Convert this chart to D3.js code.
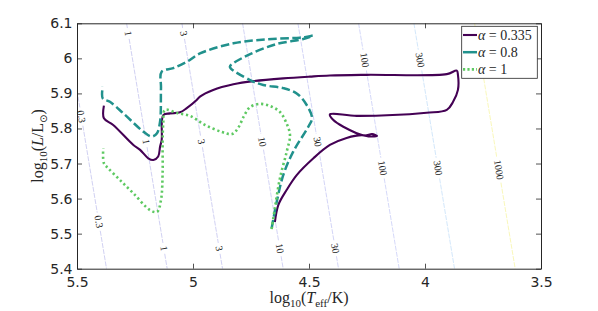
<!DOCTYPE html>
<html><head><meta charset="utf-8">
<script src="https://cdn.jsdelivr.net/npm/d3@7"></script>
<style>body{margin:0;background:#fff;} svg{display:block;}</style>
</head><body>
<svg id="chart" width="598" height="311"></svg>
<script>
// ---- data ----
const logT335 = [4.647,4.632,4.596,4.553,4.481,4.410,4.338,4.272,4.237,4.207,4.228,4.263,4.352,4.395,4.410,4.294,3.993,3.906,3.879,3.858,3.858,3.863,3.906,4.251,4.410,4.496,4.611,4.740,4.826,4.913,4.970,4.984,5.027,5.056,5.099,5.128,5.135,5.142,5.150,5.171,5.193,5.228,5.257,5.344,5.384,5.384];
const logL335 = [5.533,5.582,5.625,5.667,5.715,5.753,5.773,5.781,5.777,5.779,5.784,5.780,5.805,5.824,5.840,5.836,5.845,5.853,5.876,5.910,5.953,5.965,5.955,5.953,5.951,5.948,5.943,5.935,5.926,5.910,5.891,5.881,5.858,5.846,5.843,5.838,5.767,5.748,5.720,5.710,5.715,5.739,5.753,5.810,5.829,5.865];

const logT08 = [4.661,4.639,4.611,4.568,4.503,4.487,4.510,4.553,4.611,4.697,4.754,4.841,4.826,4.754,4.639,4.525,4.483,4.513,4.539,4.682,4.826,4.970,5.027,5.085,5.135,5.138,5.142,5.156,5.178,5.214,5.300,5.358,5.389,5.389];
const logL08 = [5.515,5.591,5.667,5.734,5.805,5.830,5.867,5.900,5.915,5.924,5.938,5.976,5.986,6.012,6.041,6.055,6.065,6.061,6.059,6.054,6.043,6.014,5.990,5.972,5.962,5.915,5.819,5.786,5.777,5.791,5.843,5.876,5.886,5.919];

const logT1 = [4.661,4.647,4.625,4.596,4.582,4.599,4.625,4.668,4.711,4.754,4.780,4.806,4.832,4.875,4.948,5.013,5.069,5.121,5.128,5.131,5.131,5.138,5.155,5.185,5.257,5.315,5.365,5.384,5.387];
const logL1 = [5.513,5.573,5.659,5.734,5.781,5.818,5.847,5.864,5.870,5.861,5.836,5.801,5.784,5.790,5.810,5.836,5.844,5.853,5.818,5.761,5.672,5.596,5.562,5.567,5.615,5.653,5.686,5.701,5.743];

const seriesNames = ["0.335","0.8","1"];
const seriesColors = ["#440154","#21918c","#5ec962"];

const xTicks = [5.5,5,4.5,4,3.5];
const xTickLabels = ["5.5","5","4.5","4","3.5"];
const yTicks = [5.4,5.5,5.6,5.7,5.8,5.9,6.0,6.1];
const yTickLabels = ["5.4","5.5","5.6","5.7","5.8","5.9","6","6.1"];

// iso-radius contours (R in solar radii)
const radiusLevels = [0.3,1,3,10,30,100,300,1000];
const radiusColors = ["#8f8fe0","#8f8fe0","#9090e2","#9295e6","#9499ea","#98a2f0","#92c4f4","#f0ec58"];
const labelRadius = [0.3,0.3,1,1,1,3,3,3,10,10,30,30,100,100,300,300,1000];
const labelLogL   = [5.834,5.534,6.071,5.762,5.458,6.071,5.762,5.458,5.762,5.458,5.762,5.458,5.995,5.687,5.995,5.687,5.682];
const logTsun = 3.7613;

// ---- drawing ----
const svg = d3.select("#chart");
const x = d3.scaleLinear().domain([5.5,3.5]).range([77,541]);
const y = d3.scaleLinear().domain([5.4,6.1]).range([268.7,23.3]);
const axisColor = "#262626";

svg.append("defs").append("clipPath").attr("id","clip")
  .append("rect").attr("x",77).attr("y",23.3).attr("width",464).attr("height",245.4);

const plot = svg.append("g").attr("clip-path","url(#clip)");
const lumToT = (L,R) => (L - 2*Math.log10(R))/4 + logTsun;

// contour labels (measure first)
const labG = svg.append("g");
const labels = labelRadius.map((R,i)=>{
  const L = labelLogL[i];
  const px = x(lumToT(L,R)), py = y(L);
  const p1 = [x(lumToT(6.1,R)), y(6.1)], p2 = [x(lumToT(5.4,R)), y(5.4)];
  const ang = Math.atan2(p2[1]-p1[1], p2[0]-p1[0])*180/Math.PI;
  const t = labG.append("text")
    .attr("transform",`translate(${px},${py}) rotate(${ang})`)
    .attr("text-anchor","middle").attr("dy","0.33em")
    .attr("font-family","Liberation Serif, DejaVu Serif, serif")
    .attr("font-size",10).attr("fill","#222")
    .text(String(R));
  return {R, px, py, len: t.node().getComputedTextLength()};
});

radiusLevels.forEach((R,i)=>{
  const p1 = [x(lumToT(6.1,R)), y(6.1)], p2 = [x(lumToT(5.4,R)), y(5.4)];
  const dx = p2[0]-p1[0], dy = p2[1]-p1[1];
  const total = Math.hypot(dx,dy);
  const ux = dx/total, uy = dy/total;
  const gaps = labels.filter(l=>l.R===R).map(l=>{
    const tc = (l.px-p1[0])*ux + (l.py-p1[1])*uy;
    return [tc - l.len/2 - 3, tc + l.len/2 + 3];
  }).sort((a,b)=>a[0]-b[0]);
  let start = 0;
  const segs = [];
  gaps.forEach(g=>{ segs.push([start,g[0]]); start = g[1]; });
  segs.push([start,total]);
  segs.forEach(s=>{
    if (s[1] <= s[0]) return;
    plot.append("line")
      .attr("x1",p1[0]+ux*s[0]).attr("y1",p1[1]+uy*s[0])
      .attr("x2",p1[0]+ux*s[1]).attr("y2",p1[1]+uy*s[1])
      .attr("stroke",radiusColors[i]).attr("stroke-width",0.55)
      .attr("stroke-dasharray","5,1.2").attr("opacity",0.75);
  });
});
labG.raise();

// tracks
const line = d3.line().x(d=>x(d[0])).y(d=>y(d[1])).curve(d3.curveCatmullRom.alpha(0.5));
const tracks = [d3.zip(logT335,logL335), d3.zip(logT08,logL08), d3.zip(logT1,logL1)];
const dashes = [null, "8.5,3.5", "2.2,2.8"];
const widths = [2.1, 2.5, 2.6];
tracks.forEach((tr,i)=>{
  plot.append("path").datum(tr).attr("d",line)
    .attr("fill","none").attr("stroke",seriesColors[i])
    .attr("stroke-width",widths[i])
    .attr("stroke-dasharray",dashes[i])
    .attr("stroke-linejoin","round");
});

// axes
const fontSans = "DejaVu Sans, sans-serif";
const gx = svg.append("g").attr("transform","translate(0,268.7)")
  .call(d3.axisBottom(x).tickValues(xTicks).tickFormat((d,i)=>xTickLabels[i]).tickSizeInner(-5).tickSizeOuter(0).tickPadding(8));
const gy = svg.append("g").attr("transform","translate(77,0)")
  .call(d3.axisLeft(y).tickValues(yTicks).tickFormat((d,i)=>yTickLabels[i]).tickSizeInner(-5).tickSizeOuter(0).tickPadding(4.5));
const gt = svg.append("g").attr("transform","translate(0,23.3)")
  .call(d3.axisTop(x).tickValues(xTicks).tickFormat("").tickSizeInner(-5).tickSizeOuter(0));
const gr = svg.append("g").attr("transform","translate(541,0)")
  .call(d3.axisRight(y).tickValues(yTicks).tickFormat("").tickSizeInner(-5).tickSizeOuter(0));
[gx,gy,gt,gr].forEach(g=>{
  g.selectAll("path.domain").attr("stroke",axisColor).attr("stroke-width",1);
  g.selectAll(".tick line").attr("stroke",axisColor).attr("stroke-width",0.8);
  g.selectAll("text").attr("fill",axisColor).attr("font-family",fontSans).attr("font-size",14);
});

// axis labels
const serif = "Liberation Serif, DejaVu Serif, serif";
const xl = svg.append("text").attr("x",309).attr("y",303).attr("text-anchor","middle")
  .attr("font-family",serif).attr("font-size",16).attr("fill",axisColor);
xl.append("tspan").text("log");
xl.append("tspan").attr("dy",4).attr("font-size",11).text("10");
xl.append("tspan").attr("dy",-4).text("(");
xl.append("tspan").attr("font-style","italic").text("T");
xl.append("tspan").attr("dy",4).attr("font-size",11).text("eff");
xl.append("tspan").attr("dy",-4).text("/K)");

const yl = svg.append("text").attr("transform","translate(43,146) rotate(-90)").attr("text-anchor","middle")
  .attr("font-family",serif).attr("font-size",16).attr("fill",axisColor);
yl.append("tspan").text("log");
yl.append("tspan").attr("dy",4).attr("font-size",11).text("10");
yl.append("tspan").attr("dy",-4).text("(");
yl.append("tspan").attr("font-style","italic").text("L");
yl.append("tspan").text("/L");
yl.append("tspan").attr("dy",4).attr("font-size",10).attr("font-family","DejaVu Sans, sans-serif").text("⊙");
yl.append("tspan").attr("dy",-4).text(")");

// legend
const lg = svg.append("g");
lg.append("rect").attr("x",461.7).attr("y",26.3).attr("width",75.6).attr("height",52)
  .attr("fill","#fff").attr("stroke",axisColor).attr("stroke-width",0.8);
seriesNames.forEach((n,i)=>{
  const yy = 35 + i*17.2;
  lg.append("line").attr("x1",463).attr("x2",477).attr("y1",yy).attr("y2",yy)
    .attr("stroke",seriesColors[i]).attr("stroke-width",widths[i])
    .attr("stroke-dasharray", i===2 ? "2.2,2.2" : null);
  const t = lg.append("text").attr("x",478).attr("y",yy+4.5)
    .attr("font-family",serif).attr("font-size",14).attr("fill",axisColor);
  t.append("tspan").attr("font-style","italic").text("α");
  t.append("tspan").text(" = " + n);
});
</script>
</body></html>
